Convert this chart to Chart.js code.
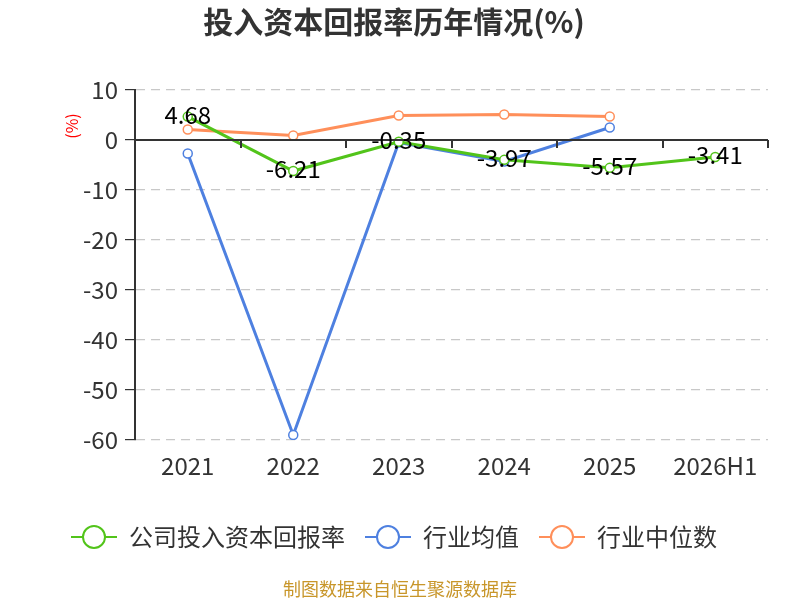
<!DOCTYPE html>
<html>
<head>
<meta charset="utf-8">
<script src="https://cdn.jsdelivr.net/npm/chart.js@4/dist/chart.umd.min.js"></script>
<style>
html,body{margin:0;padding:0;background:#fff;}
#wrap{width:800px;height:600px;position:relative;}
</style>
</head>
<body>
<div id="wrap"><canvas id="c" width="800" height="600"></canvas></div>
<script>
const categories = ['2021', '2022', '2023', '2024', '2025', '2026H1'];
const companyValues = [4.68, -6.21, -0.35, -3.97, -5.57, -3.41];
const industryAvg = [-2.7, -59.0, -0.5, -4.3, 2.5, null];
const industryMedian = [2.1, 0.9, 4.9, 5.1, 4.7, null];
const seriesNames = ['公司投入资本回报率', '行业均值', '行业中位数'];
const seriesColors = ['#52c41a', '#4e80e0', '#ff8f5a'];
const yMin = -60, yMax = 10, yStep = 10;

const FONT = '"Noto Sans CJK SC","Noto Sans",sans-serif';

function legendIcon(color) {
  const cv = document.createElement('canvas');
  cv.width = 46; cv.height = 26;
  const g = cv.getContext('2d');
  g.strokeStyle = color; g.lineWidth = 2;
  g.beginPath(); g.moveTo(0, 13); g.lineTo(46, 13); g.stroke();
  g.beginPath(); g.arc(23, 13, 11, 0, Math.PI * 2);
  g.fillStyle = '#fff'; g.fill(); g.stroke();
  return cv;
}
const icons = seriesColors.map(legendIcon);

const extras = {
  id: 'extras',
  afterDatasetsDraw(chart) {
    const ctx = chart.ctx;
    const x = chart.scales.x, y = chart.scales.y;
    const y0 = y.getPixelForValue(0);
    ctx.save();
    ctx.strokeStyle = '#333'; ctx.lineWidth = 2;
    ctx.beginPath(); ctx.moveTo(chart.chartArea.left, y0); ctx.lineTo(chart.chartArea.right, y0); ctx.stroke();
    const half = (x.getPixelForValue(1) - x.getPixelForValue(0)) / 2;
    for (let i = 0; i < categories.length; i++) {
      const px = Math.round(x.getPixelForValue(i) + half);
      ctx.beginPath(); ctx.moveTo(px, y0); ctx.lineTo(px, y0 + 8); ctx.stroke();
    }
    const meta = chart.getDatasetMeta(0);
    ctx.fillStyle = '#000';
    ctx.font = '24px ' + FONT;
    ctx.textAlign = 'center'; ctx.textBaseline = 'middle';
    meta.data.forEach((pt, i) => {
      ctx.fillText(String(companyValues[i]), pt.x, pt.y - 2);
    });
    ctx.save();
    ctx.translate(72, 126);
    ctx.rotate(-Math.PI / 2);
    ctx.fillStyle = '#ff0000';
    ctx.font = '16px ' + FONT;
    ctx.fillText('(%)', 0, 0);
    ctx.restore();
    ctx.fillStyle = '#c8962a';
    ctx.font = '18px ' + FONT;
    ctx.fillText('制图数据来自恒生聚源数据库', 400, 589);
    ctx.restore();
  }
};

const ds = (label, data, color) => ({
  label, data,
  borderColor: color, backgroundColor: '#fff',
  borderWidth: 3,
  pointRadius: 4.5, pointHoverRadius: 4.5,
  pointBorderWidth: 1.5, pointBackgroundColor: '#fff', pointBorderColor: color,
  tension: 0, spanGaps: false
});

new Chart(document.getElementById('c'), {
  type: 'line',
  data: {
    labels: categories,
    datasets: [
      ds(seriesNames[0], companyValues, seriesColors[0]),
      ds(seriesNames[1], industryAvg, seriesColors[1]),
      ds(seriesNames[2], industryMedian, seriesColors[2])
    ]
  },
  options: {
    responsive: false,
    animation: false,
    devicePixelRatio: 1,
    layout: { padding: { left: 20, right: 32, top: 0, bottom: 41 } },
    plugins: {
      tooltip: { enabled: false },
      title: {
        display: true,
        text: '投入资本回报率历年情况(%)',
        color: '#333',
        font: { family: FONT, size: 30, weight: 'bold' },
        padding: { top: 4, bottom: 50 }
      },
      legend: {
        position: 'bottom',
        labels: {
          usePointStyle: true,
          pointStyleWidth: 46,
          color: '#333',
          padding: 20,
          font: { family: FONT, size: 24 },
          generateLabels(chart) {
            const items = Chart.defaults.plugins.legend.labels.generateLabels(chart);
            items.forEach((it, i) => { it.pointStyle = icons[i]; });
            return items;
          }
        }
      }
    },
    scales: {
      x: {
        offset: true,
        afterFit(s) { s.height = 65; },
        grid: { display: false, drawTicks: false },
        border: { display: false },
        ticks: { color: '#333', font: { family: FONT, size: 24 }, padding: 11 }
      },
      y: {
        min: yMin, max: yMax,
        afterFit(s) { s.width = 115; },
        ticks: { stepSize: yStep, color: '#333', font: { family: FONT, size: 24 }, padding: 7 },
        grid: {
          color: (c) => c.tick && c.tick.value === 0 ? 'rgba(0,0,0,0)' : '#c8c8c8',
          lineWidth: 1.2,
          tickColor: '#333',
          tickLength: 10,
          tickBorderDash: [],
          drawTicks: true
        },
        border: { display: true, color: '#333', width: 2, dash: [9, 6] }
      }
    }
  },
  plugins: [extras]
});
</script>
</body>
</html>
